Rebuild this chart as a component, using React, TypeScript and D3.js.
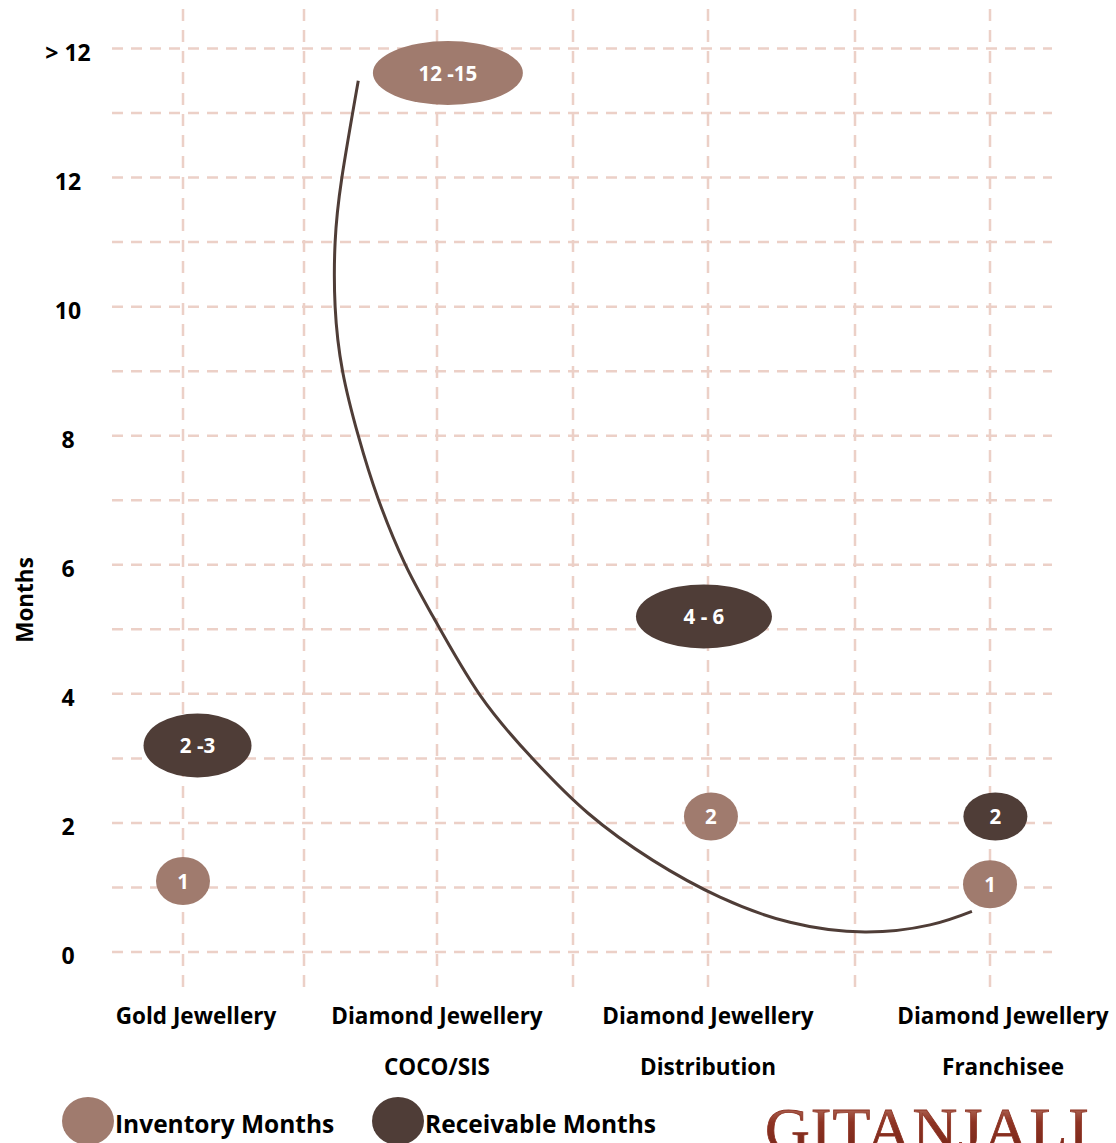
import React, { useEffect, useRef } from 'react'
import * as d3 from 'd3'

// categories (two text rows under the plot)
const categoryLine1 = ['Gold Jewellery', 'Diamond Jewellery', 'Diamond Jewellery', 'Diamond Jewellery']
const categoryLine2 = ['', 'COCO/SIS', 'Distribution', 'Franchisee']

// inventory months bubbles: position along category axis, value in months, label
const inventoryPos = [0, 1.04, 2.01, 3]
const inventoryMonths = [1.1, 13.62, 2.1, 1.05]
const inventoryLabels = ['1', '12 -15', '2', '1']

// receivable months bubbles
const receivablePos = [0.06, 1.985, 3.02]
const receivableMonths = [3.2, 5.2, 2.1]
const receivableLabels = ['2 -3', '4 - 6', '2']

// y ticks
const yTicks = [0, 2, 4, 6, 8, 10, 12, 14]
const yTickLabels = ['0', '2', '4', '6', '8', '10', '12', '> 12']

// hand-drawn trend arc (category position, months)
const trendPos = [0.704, 0.642, 0.617, 0.617, 0.645, 0.704, 0.779, 0.88, 0.986, 1.158, 1.353, 1.556, 1.796, 2.041, 2.279, 2.537, 2.778, 2.933]
const trendMonths = [13.5, 11.99, 11.0, 10.0, 9.0, 8.0, 7.02, 6.01, 5.19, 3.98, 2.99, 2.15, 1.42, 0.85, 0.46, 0.31, 0.42, 0.63]

const INVENTORY = '#a07b6e'
const RECEIVABLE = '#4f3d37'
const GRID = '#ecd0c7'
const FONT = '"Open Sans", Lato, sans-serif'

// bubble half-widths per label length
const bubbleRx = (label: string) => (label.length <= 1 ? 27 : label.length <= 4 ? 54 : label === '4 - 6' ? 68 : 75)

const W = 1116
const H = 1143

export default function App() {
    const svgRef = useRef<SVGSVGElement | null>(null)

    useEffect(() => {
        const svg = d3.select(svgRef.current)
        svg.selectAll('*').remove()

        const xScale = d3
            .scaleLinear()
            .domain([0, 0.5, 1, 1.5, 2, 2.5, 3])
            .range([183, 304, 437, 573, 708, 855, 990])
        const yScale = d3.scaleLinear().domain([0, 14]).range([952, 48.5])

        const defs = svg.append('defs')
        const grad = defs.append('linearGradient').attr('id', 'logo').attr('x1', 0).attr('y1', 0).attr('x2', 0).attr('y2', 1)
        grad.append('stop').attr('offset', '0%').attr('stop-color', '#c8907f')
        grad.append('stop').attr('offset', '40%').attr('stop-color', '#8e3323')
        grad.append('stop').attr('offset', '100%').attr('stop-color', '#6e2216')

        // horizontal grid
        svg.append('g')
            .selectAll('line')
            .data(d3.range(0, 15))
            .join('line')
            .attr('x1', 112)
            .attr('x2', 1052)
            .attr('y1', d => yScale(d))
            .attr('y2', d => yScale(d))
            .attr('stroke', GRID)
            .attr('stroke-width', 2.5)
            .attr('stroke-dasharray', '11 8')

        // vertical grid
        svg.append('g')
            .selectAll('line')
            .data(d3.range(0, 3.01, 0.5))
            .join('line')
            .attr('x1', d => xScale(d))
            .attr('x2', d => xScale(d))
            .attr('y1', 9)
            .attr('y2', 987)
            .attr('stroke', GRID)
            .attr('stroke-width', 2.5)
            .attr('stroke-dasharray', '12 9')

        // y tick labels
        svg.append('g')
            .selectAll('text')
            .data(yTicks)
            .join('text')
            .attr('x', 68)
            .attr('y', d => yScale(d) + 3)
            .attr('dominant-baseline', 'central')
            .attr('text-anchor', 'middle')
            .attr('font-family', FONT)
            .attr('font-weight', 700)
            .attr('font-size', 23)
            .text((d, i) => yTickLabels[i])

        svg.append('text')
            .attr('transform', 'translate(24,600) rotate(-90)')
            .attr('dominant-baseline', 'central')
            .attr('text-anchor', 'middle')
            .attr('font-family', FONT)
            .attr('font-weight', 700)
            .attr('font-size', 22.5)
            .text('Months')

        // trend arc
        const line = d3
            .line<number>()
            .x(i => xScale(trendPos[i]))
            .y(i => yScale(trendMonths[i]))
            .curve(d3.curveNatural)
        svg.append('path')
            .attr('d', line(d3.range(trendPos.length)))
            .attr('fill', 'none')
            .attr('stroke', RECEIVABLE)
            .attr('stroke-width', 3)

        // bubbles
        const drawBubbles = (pos: number[], vals: number[], labels: string[], color: string) => {
            const g = svg.append('g').selectAll('g').data(vals).join('g')
                .attr('transform', (d, i) => `translate(${xScale(pos[i])},${yScale(d)})`)
            g.append('ellipse')
                .attr('rx', (d, i) => bubbleRx(labels[i]) + (color === RECEIVABLE && labels[i].length === 1 ? 5 : 0))
                .attr('ry', (d, i) => (labels[i].length <= 1 ? 24 : 32))
                .attr('fill', color)
            g.append('text')
                .attr('dominant-baseline', 'central')
                .attr('text-anchor', 'middle')
                .attr('fill', '#fff')
                .attr('font-family', FONT)
                .attr('font-weight', 700)
                .attr('font-size', 20.5)
                .text((d, i) => labels[i])
        }
        drawBubbles(inventoryPos, inventoryMonths, inventoryLabels, INVENTORY)
        drawBubbles(receivablePos, receivableMonths, receivableLabels, RECEIVABLE)

        // category labels
        const labelShift = [13, 0, 0, 13]
        const cats = svg.append('g').selectAll('g').data(categoryLine1).join('g')
            .attr('transform', (d, i) => `translate(${xScale(i) + labelShift[i]},0)`)
        cats.append('text')
            .attr('y', 1015)
            .attr('dominant-baseline', 'central')
            .attr('text-anchor', 'middle')
            .attr('font-family', FONT)
            .attr('font-weight', 700)
            .attr('font-size', 22.5)
            .text(d => d)
        cats.append('text')
            .attr('y', 1066)
            .attr('dominant-baseline', 'central')
            .attr('text-anchor', 'middle')
            .attr('font-family', FONT)
            .attr('font-weight', 700)
            .attr('font-size', 22.5)
            .text((d, i) => categoryLine2[i])

        // legend
        const legend = [
            { name: 'Inventory Months', color: INVENTORY, x: 88 },
            { name: 'Receivable Months', color: RECEIVABLE, x: 398 },
        ]
        const lg = svg.append('g').selectAll('g').data(legend).join('g')
            .attr('transform', d => `translate(${d.x},1121)`)
        lg.append('ellipse').attr('rx', 26).attr('ry', 24).attr('fill', d => d.color)
        lg.append('text')
            .attr('x', 27)
            .attr('y', 2)
            .attr('dominant-baseline', 'central')
            .attr('font-family', FONT)
            .attr('font-weight', 700)
            .attr('font-size', 24.5)
            .text(d => d.name)

        // logo
        svg.append('text')
            .attr('x', 765)
            .attr('y', 1150)
            .attr('font-family', '"Liberation Serif", "DejaVu Serif", serif')
            .attr('font-size', 62)
            .attr('textLength', 324)
            .attr('lengthAdjust', 'spacing')
            .attr('fill', 'url(#logo)')
            .attr('stroke', '#8e3323')
            .attr('stroke-width', 0.8)
            .text('GITANJALI')
    }, [])

    return (
        <svg
            ref={svgRef}
            width={W}
            height={H}
            style={{ position: 'absolute', left: 0, top: 0, background: '#fff' }}
        />
    )
}
